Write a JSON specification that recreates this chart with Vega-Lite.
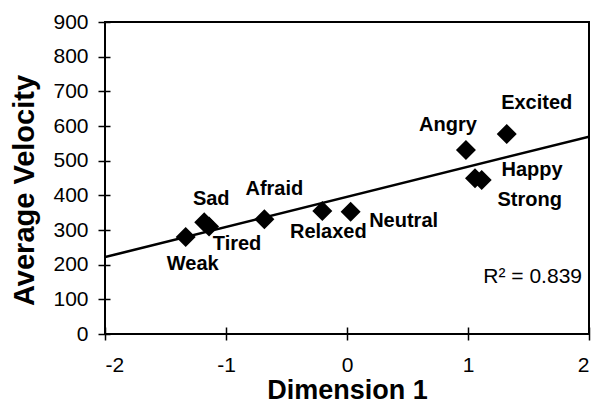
{
  "$schema": "https://vega.github.io/schema/vega-lite/v6.json",
  "width": 484,
  "height": 312,
  "autosize": {"type": "none"},
  "padding": {"left": 105, "top": 22, "right": 12, "bottom": 69},
  "background": "white",
  "config": {
    "view": {"stroke": "black", "strokeWidth": 2},
    "font": "Liberation Sans",
    "axis": {
      "grid": false,
      "domain": false,
      "tickColor": "black",
      "tickWidth": 1.5,
      "labelFont": "Liberation Sans",
      "labelFontSize": 21,
      "labelColor": "black",
      "labelOverlap": false,
      "titleFont": "Liberation Sans",
      "titleFontWeight": "bold",
      "titleColor": "black"
    },
    "axisX": {"offset": -7, "tickSize": 13, "labelPadding": 14, "titlePadding": 2, "titleFontSize": 27},
    "axisY": {"offset": -5, "tickSize": 12, "labelPadding": 10, "titlePadding": 13, "titleFontSize": 29, "titleY": 168}
  },
  "datasets": {
    "emotions": [
      {"name": "Weak", "x": -1.333, "y": 280},
      {"name": "Sad", "x": -1.18, "y": 322},
      {"name": "Tired", "x": -1.14, "y": 310},
      {"name": "Afraid", "x": -0.683, "y": 331},
      {"name": "Relaxed", "x": -0.204, "y": 355},
      {"name": "Neutral", "x": 0.03, "y": 353},
      {"name": "Angry", "x": 0.983, "y": 531},
      {"name": "Excited", "x": 1.32, "y": 577},
      {"name": "Happy", "x": 1.058, "y": 449},
      {"name": "Strong", "x": 1.113, "y": 444}
    ],
    "fit": [{"label": "R² = 0.839"}]
  },
  "layer": [
    {
      "data": {"name": "emotions"},
      "encoding": {
        "x": {
          "field": "x",
          "type": "quantitative",
          "scale": {"domain": [-2, 2], "nice": false, "zero": false},
          "axis": {"values": [-2, -1, 0, 1, 2], "labelExpr": "'' + datum.value", "title": "Dimension 1"}
        },
        "y": {
          "field": "y",
          "type": "quantitative",
          "scale": {"domain": [0, 900], "nice": false},
          "axis": {"values": [0, 100, 200, 300, 400, 500, 600, 700, 800, 900], "title": "Average Velocity"}
        }
      },
      "layer": [
        {
          "transform": [{"regression": "y", "on": "x", "extent": [-2, 2]}],
          "mark": {"type": "line", "color": "black", "strokeWidth": 2.5, "clip": true}
        },
        {
          "mark": {"type": "point", "shape": "diamond", "filled": true, "color": "black", "opacity": 1, "size": 400}
        },
        {"transform": [{"filter": {"field": "name", "equal": "Weak"}}], "mark": {"type": "text", "fontSize": 20, "fontWeight": "bold", "color": "black", "align": "center", "baseline": "middle", "dx": 7, "dy": 27}, "encoding": {"text": {"field": "name"}}},
        {"transform": [{"filter": {"field": "name", "equal": "Sad"}}], "mark": {"type": "text", "fontSize": 20, "fontWeight": "bold", "color": "black", "align": "center", "baseline": "middle", "dx": 7, "dy": -23}, "encoding": {"text": {"field": "name"}}},
        {"transform": [{"filter": {"field": "name", "equal": "Tired"}}], "mark": {"type": "text", "fontSize": 20, "fontWeight": "bold", "color": "black", "align": "center", "baseline": "middle", "dx": 28, "dy": 17}, "encoding": {"text": {"field": "name"}}},
        {"transform": [{"filter": {"field": "name", "equal": "Afraid"}}], "mark": {"type": "text", "fontSize": 20, "fontWeight": "bold", "color": "black", "align": "center", "baseline": "middle", "dx": 10, "dy": -30}, "encoding": {"text": {"field": "name"}}},
        {"transform": [{"filter": {"field": "name", "equal": "Relaxed"}}], "mark": {"type": "text", "fontSize": 20, "fontWeight": "bold", "color": "black", "align": "center", "baseline": "middle", "dx": 6, "dy": 21}, "encoding": {"text": {"field": "name"}}},
        {"transform": [{"filter": {"field": "name", "equal": "Neutral"}}], "mark": {"type": "text", "fontSize": 20, "fontWeight": "bold", "color": "black", "align": "center", "baseline": "middle", "dx": 53, "dy": 9}, "encoding": {"text": {"field": "name"}}},
        {"transform": [{"filter": {"field": "name", "equal": "Angry"}}], "mark": {"type": "text", "fontSize": 20, "fontWeight": "bold", "color": "black", "align": "center", "baseline": "middle", "dx": -18, "dy": -25}, "encoding": {"text": {"field": "name"}}},
        {"transform": [{"filter": {"field": "name", "equal": "Excited"}}], "mark": {"type": "text", "fontSize": 20, "fontWeight": "bold", "color": "black", "align": "center", "baseline": "middle", "dx": 30, "dy": -31}, "encoding": {"text": {"field": "name"}}},
        {"transform": [{"filter": {"field": "name", "equal": "Happy"}}], "mark": {"type": "text", "fontSize": 20, "fontWeight": "bold", "color": "black", "align": "center", "baseline": "middle", "dx": 57, "dy": -8}, "encoding": {"text": {"field": "name"}}},
        {"transform": [{"filter": {"field": "name", "equal": "Strong"}}], "mark": {"type": "text", "fontSize": 20, "fontWeight": "bold", "color": "black", "align": "center", "baseline": "middle", "dx": 48, "dy": 20}, "encoding": {"text": {"field": "name"}}}
      ]
    },
    {
      "data": {"name": "fit"},
      "mark": {"type": "text", "fontSize": 21, "color": "black", "align": "right", "baseline": "alphabetic", "dx": -7, "dy": -51},
      "encoding": {
        "x": {
          "datum": 2,
          "type": "quantitative",
          "scale": {"domain": [-2, 2], "nice": false, "zero": false},
          "axis": {"values": [-2, -1, 0, 1, 2], "labelExpr": "'' + datum.value", "title": "Dimension 1"}
        },
        "y": {
          "datum": 0,
          "type": "quantitative",
          "scale": {"domain": [0, 900], "nice": false},
          "axis": {"values": [0, 100, 200, 300, 400, 500, 600, 700, 800, 900], "title": "Average Velocity"}
        },
        "text": {"field": "label"}
      }
    }
  ]
}
